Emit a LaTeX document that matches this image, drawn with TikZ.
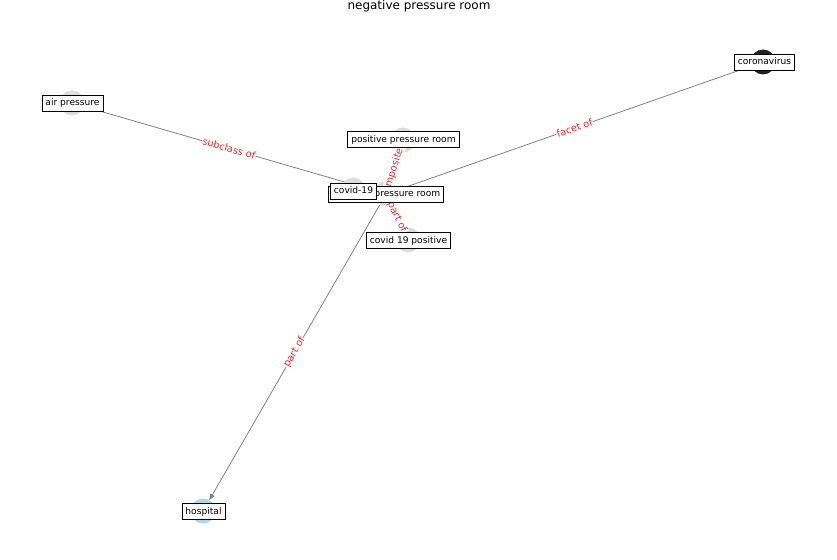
\documentclass[tikz,border=0pt]{standalone}
\usepackage{fontspec}
\setmainfont{DejaVu Sans}
\usetikzlibrary{arrows.meta}
\definecolor{nodegray}{HTML}{DDDDDD}
\definecolor{nodedark}{HTML}{222222}
\definecolor{nodeblue}{HTML}{ADD8E6}
\definecolor{edgegray}{HTML}{808080}
\definecolor{labelred}{HTML}{E8262B}
\pgfdeclarelayer{edges}
\pgfdeclarelayer{top}
\pgfsetlayers{edges,main,top}
\begin{document}
\begin{tikzpicture}[x=1pt,y=-1pt,
  circ/.style={circle,minimum size=25pt,inner sep=0pt,draw=none},
  lbl/.style={draw=black,fill=white,line width=0.7pt,font=\fontsize{9.1}{10}\selectfont,inner xsep=3.5pt,inner ysep=3.5pt,text height=7pt,text depth=2pt},
  edge/.style={draw=edgegray,line width=0.8pt},
  arr/.style={edge,-{Triangle[length=6pt,width=5pt]}},
  elabel/.style={font=\fontsize{9.8}{11}\selectfont,text=labelred,fill=white,inner sep=0.5pt,sloped,midway}]
\useasboundingbox (0,0) rectangle (837,559);
\node[font=\fontsize{12}{14}\selectfont] (title) at (419,6) {negative pressure room};
% node circles
\node[circ,fill=nodegray] (c-np) at (386,194) {};
\node[circ,fill=nodegray] (c-cv) at (353,190) {};
\node[circ,fill=nodegray] (c-pp) at (403,140) {};
\node[circ,fill=nodegray] (c-cp) at (408,240) {};
\node[circ,fill=nodegray] (c-ap) at (72,103) {};
\node[circ,fill=nodedark] (c-co) at (763,62) {};
\node[circ,fill=nodeblue] (c-ho) at (203,511) {};
% edges
\begin{pgfonlayer}{edges}
\draw[arr] (c-ap) -- (c-np);
\draw[arr] (c-co) -- (c-np);
\draw[arr] (c-np) -- (c-ho);
\draw[arr] (c-pp) -- (c-np);
\draw[arr] (c-cp) -- (c-np);
\end{pgfonlayer}
% edge labels
\path (c-ap) -- (c-np) node[elabel] {subclass of};
\path (c-np) -- (c-co) node[elabel] {facet of};
\path (c-ho) -- (c-np) node[elabel] {part of};
\path (c-np) -- (c-pp) node[elabel] {composite of};
\path (c-np) -- (c-cp) node[elabel] {part of};
% label boxes
\begin{pgfonlayer}{top}
\node[lbl] (b-np) at (386,194) {negative pressure room};
\node[lbl] (b-cv) at (353.5,191) {covid-19};
\node[lbl] (b-pp) at (403.5,139.5) {positive pressure room};
\node[lbl] (b-cp) at (408.5,240.5) {covid 19 positive};
\node[lbl] (b-ap) at (72.5,103) {air pressure};
\node[lbl] (b-co) at (764.5,62.5) {coronavirus};
\node[lbl] (b-ho) at (203.5,511.5) {hospital};
\end{pgfonlayer}
\end{tikzpicture}
\end{document}
